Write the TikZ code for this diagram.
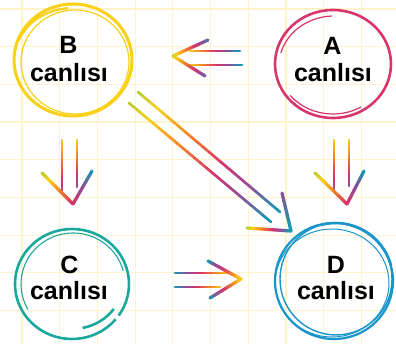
\documentclass[tikz,border=0pt]{standalone}
\usepackage{fontspec}
\setmainfont{Liberation Sans}
\usetikzlibrary{calc}
\definecolor{gG}{RGB}{181,204,46}
\definecolor{gY}{RGB}{248,208,26}
\definecolor{gO}{RGB}{244,137,34}
\definecolor{gM}{RGB}{214,51,108}
\definecolor{gP}{RGB}{140,80,155}
\definecolor{gT}{RGB}{14,158,181}
\definecolor{cyel}{RGB}{248,209,24}
\definecolor{cpink}{RGB}{217,52,107}
\definecolor{cteal}{RGB}{26,168,158}
\definecolor{cblue}{RGB}{25,150,201}
\definecolor{gridc}{RGB}{255,243,204}
\colorlet{gc}{gY}
\newcommand\gsetcol[1]{%
  \pgfmathsetmacro\gtv{#1}%
  \ifdim\gtv pt<0.15pt
    \pgfmathsetmacro\gpc{100*\gtv/0.15}\colorlet{gc}{gY!\gpc!gG}%
  \else\ifdim\gtv pt<0.35pt
    \pgfmathsetmacro\gpc{100*(\gtv-0.15)/0.2}\colorlet{gc}{gO!\gpc!gY}%
  \else\ifdim\gtv pt<0.6pt
    \pgfmathsetmacro\gpc{100*(\gtv-0.35)/0.25}\colorlet{gc}{gM!\gpc!gO}%
  \else\ifdim\gtv pt<0.8pt
    \pgfmathsetmacro\gpc{100*(\gtv-0.6)/0.2}\colorlet{gc}{gP!\gpc!gM}%
  \else
    \pgfmathsetmacro\gpc{min(100,100*(\gtv-0.8)/0.2)}\colorlet{gc}{gT!\gpc!gP}%
  \fi\fi\fi\fi}
% #1 style, #2 start, #3 end, #4 t at start, #5 t at end
\newcommand\gline[5]{%
  \foreach \i in {0,...,23}{%
    \gsetcol{#4+(#5-(#4))*(\i+0.5)/24}%
    \draw[#1, draw=gc] ($(#2)!{\i/24}!(#3)$) -- ($(#2)!{(\i+1)/24}!(#3)$);
  }}
\begin{document}
\begin{tikzpicture}[x=1pt,y=-1pt,
  gridline/.style={draw=gridc, line width=1.2pt},
  shaft/.style={line width=2.7pt, line cap=round},
  arm/.style={line width=3.2pt, line cap=round},
  lbl/.style={font=\bfseries\fontsize{25}{28}\selectfont, anchor=base, inner sep=0pt, text=black}]
\fill[white] (0,0) rectangle (396,344);
\useasboundingbox (0,0) rectangle (396,344);
% grid
\foreach \k in {0,...,9}{\draw[gridline] (22+37.7*\k,0) -- (22+37.7*\k,344);}
\foreach \k in {0,...,9}{\draw[gridline] (0,9+37.7*\k) -- (396,9+37.7*\k);}
% circles
% B yellow
\draw[cyel, line width=3pt] (73,60) ellipse [x radius=59, y radius=56];
\draw[cyel, line width=1.2pt] (75,62) ellipse [x radius=54, y radius=52];
\draw[cyel, line width=2.2pt] (73,58) ++(200:58 and 50) arc [start angle=200, end angle=265, x radius=58, y radius=50];
% A pink
\draw[cpink, line width=2.6pt] (333,64) ellipse [x radius=58, y radius=54];
\draw[cpink, line width=1.2pt] (334,66) ++(195:55 and 50) arc [start angle=195, end angle=268, x radius=55, y radius=50];
\draw[cpink, line width=1.2pt] (333,62) ++(60:56 and 52) arc [start angle=60, end angle=140, x radius=56, y radius=52];
% C teal
\draw[cteal, line width=2.6pt] (72,284) ++(40:57 and 55) arc [start angle=40, end angle=395, x radius=57, y radius=55];
\draw[cteal, line width=1.1pt] (73,284) ++(150:52 and 51) arc [start angle=150, end angle=345, x radius=52, y radius=51];
\draw[cteal, line width=2.6pt] (72,282) ++(35:51 and 47) arc [start angle=35, end angle=78, x radius=51, y radius=47];
% D blue
\draw[cblue, line width=2.2pt] (334,281) ellipse [x radius=59, y radius=58];
\draw[cblue, line width=1.4pt] (336,279) ellipse [x radius=56, y radius=56];
\draw[cblue, line width=1pt] (332,283) ellipse [x radius=57, y radius=54];
\draw[cblue, line width=2.4pt] (336,280) ++(255:57 and 57) arc [start angle=255, end angle=345, x radius=57, y radius=57];
% labels
\node[lbl] (Bl) at (68.5,54) {B};
\node[lbl] (Bt) at (69,82) {canlısı};
\node[lbl] (Al) at (332.5,55) {A};
\node[lbl] (At) at (333,82) {canlısı};
\node[lbl] (Cl) at (69.5,274) {C};
\node[lbl] (Ct) at (69,300) {canlısı};
\node[lbl] (Dl) at (336,274) {D};
\node[lbl] (Dt) at (336,300) {canlısı};
% arrow A -> B
\coordinate (ab1a) at (190,51); \coordinate (ab1b) at (240,51);
\coordinate (ab2a) at (190,65); \coordinate (ab2b) at (242,65);
\coordinate (abh) at (173,56); \coordinate (abu) at (208,40); \coordinate (abd) at (205,76);
\gline{shaft}{ab1a}{ab1b}{0.15}{1}
\gline{shaft}{ab2a}{ab2b}{0.15}{1}
\gline{arm}{abh}{abu}{0.05}{0.9}
\gline{arm}{abh}{abd}{0.05}{0.85}
% arrow B -> C
\coordinate (bc1a) at (62,140); \coordinate (bc1b) at (62,193);
\coordinate (bc2a) at (77,140); \coordinate (bc2b) at (77,187);
\coordinate (bch) at (73,204); \coordinate (bcl) at (42,173); \coordinate (bcr) at (92,171);
\gline{shaft}{bc1a}{bc1b}{0.15}{0.75}
\gline{shaft}{bc2a}{bc2b}{0.15}{0.75}
\gline{arm}{bcl}{bch}{0}{0.6}
\gline{arm}{bcr}{bch}{1}{0.6}
% arrow A -> D
\coordinate (ad1a) at (334,140); \coordinate (ad1b) at (334,190);
\coordinate (ad2a) at (349,140); \coordinate (ad2b) at (349,186);
\coordinate (adh) at (347,204); \coordinate (adl) at (315,173); \coordinate (adr) at (364,171);
\gline{shaft}{ad1a}{ad1b}{0.15}{0.75}
\gline{shaft}{ad2a}{ad2b}{0.15}{0.75}
\gline{arm}{adl}{adh}{0}{0.6}
\gline{arm}{adr}{adh}{1}{0.6}
% arrow B -> D
\coordinate (bd1a) at (138,92); \coordinate (bd1b) at (280,212);
\coordinate (bd2a) at (129,103); \coordinate (bd2b) at (271,222);
\coordinate (bdh) at (291,231); \coordinate (bdu) at (282,193); \coordinate (bdl) at (247,228);
\gline{shaft}{bd1a}{bd1b}{0}{1}
\gline{shaft}{bd2a}{bd2b}{0}{1}
\gline{arm}{bdu}{bdh}{0.8}{1}
\gline{arm}{bdl}{bdh}{0}{1}
% arrow C -> D
\coordinate (cd1a) at (175,273); \coordinate (cd1b) at (227,273);
\coordinate (cd2a) at (175,287); \coordinate (cd2b) at (220,287);
\coordinate (cdh) at (241,279); \coordinate (cdu) at (208,261); \coordinate (cdd) at (210,298);
\gline{shaft}{cd1a}{cd1b}{1}{0.2}
\gline{shaft}{cd2a}{cd2b}{1}{0.2}
\gline{arm}{cdu}{cdh}{1}{0.15}
\gline{arm}{cdd}{cdh}{1}{0.15}
\end{tikzpicture}
\end{document}
